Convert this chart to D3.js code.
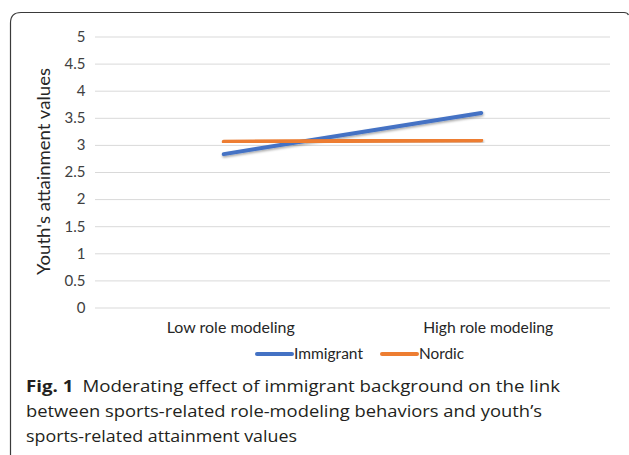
<!DOCTYPE html>
<html>
<head>
<meta charset="utf-8">
<script src="https://cdn.jsdelivr.net/npm/d3@7"></script>
<style>
  html, body { margin: 0; padding: 0; background: #fff; }
  svg { display: block; }
</style>
</head>
<body>
<script>
// chart data
var categories = ["Low role modeling", "High role modeling"];
var seriesNames = ["Immigrant", "Nordic"];
var immigrant = [2.83, 3.59];
var nordic = [3.06, 3.085];
var yTicks = [0, 0.5, 1, 1.5, 2, 2.5, 3, 3.5, 4, 4.5, 5];
var colors = ["#4472c4", "#ed7d31"];
var captionBold = "Fig. 1";
var captionLines = [
    "Moderating effect of immigrant background on the link",
    "between sports-related role-modeling behaviors and youth\u2019s",
    "sports-related attainment values"
];

var W = 629, H = 455;
var svg = d3.select("body").append("svg").attr("width", W).attr("height", H);

// soft shadow like the excel lines
var f = svg.append("defs").append("filter").attr("id", "shadow")
    .attr("x", "-10%").attr("y", "-50%").attr("width", "120%").attr("height", "200%");
f.append("feDropShadow").attr("dx", 0.5).attr("dy", 1.5).attr("stdDeviation", 1)
    .attr("flood-color", "#000").attr("flood-opacity", 0.35);

// frame of the figure box (open at bottom)
svg.append("path")
    .attr("d", "M10.5," + H + " L10.5,23 Q10.5,12.5 21,12.5 L624,12.5 Q627.5,12.5 628.5,15")
    .attr("fill", "none").attr("stroke", "#3a3a3a").attr("stroke-width", 1.2);

var x = d3.scaleBand().domain(categories).range([95, 610]);
var y = d3.scaleLinear().domain([0, 5]).range([307.5, 36.5]);
var font = "Lato, 'Open Sans', sans-serif";

// gridlines + value labels
var yAxis = svg.append("g").attr("transform", "translate(95,0)")
    .call(d3.axisLeft(y).tickValues(yTicks).tickSize(-(610 - 95)).tickPadding(9.5)
        .tickFormat(function(d) { return String(d); }));
yAxis.select(".domain").remove();
yAxis.selectAll(".tick line").attr("stroke", "#d9d9d9").attr("stroke-width", 1);
yAxis.selectAll(".tick text").attr("fill", "#404040")
    .style("font-family", font).style("font-size", "15px");

// category labels
var catWidths = [128, 130];
var xAxis = svg.append("g").attr("transform", "translate(0,307.5)")
    .call(d3.axisBottom(x).tickSize(0).tickPadding(14));
xAxis.select(".domain").remove();
xAxis.selectAll(".tick text").attr("fill", "#262626").attr("dx", 7)
    .style("font-family", font).style("font-size", "15.5px")
    .attr("textLength", function(d, i) { return catWidths[i]; })
    .attr("lengthAdjust", "spacingAndGlyphs");

// axis title
svg.append("text")
    .attr("transform", "translate(50,171.5) rotate(-90)")
    .attr("text-anchor", "middle")
    .attr("fill", "#262626")
    .style("font-family", font).style("font-size", "16.5px")
    .attr("textLength", 207)
    .attr("lengthAdjust", "spacingAndGlyphs")
    .text("Youth's attainment values");

// series lines
var series = [immigrant, nordic];
var line = d3.line()
    .x(function(d, i) { return x(categories[i]) + x.bandwidth() / 2; })
    .y(function(d) { return y(d); });

svg.selectAll("path.series")
    .data(series)
    .enter().append("path")
    .attr("class", "series")
    .attr("d", line)
    .attr("fill", "none")
    .attr("stroke", function(d, i) { return colors[i]; })
    .attr("stroke-width", 4)
    .attr("stroke-linecap", "round")
    .attr("filter", "url(#shadow)");

// legend
var legendX = [257, 382];
var legendW = [69, 45];
var lg = svg.selectAll("g.legend")
    .data(seriesNames)
    .enter().append("g")
    .attr("class", "legend")
    .attr("transform", function(d, i) { return "translate(" + legendX[i] + ",354)"; });
lg.append("line")
    .attr("x1", 0).attr("x2", 35).attr("y1", 0).attr("y2", 0)
    .attr("stroke", function(d, i) { return colors[i]; })
    .attr("stroke-width", 4).attr("stroke-linecap", "round");
lg.append("text")
    .attr("x", 37).attr("y", 4.5)
    .attr("fill", "#262626")
    .style("font-family", font).style("font-size", "14.5px")
    .attr("textLength", function(d, i) { return legendW[i]; })
    .attr("lengthAdjust", "spacingAndGlyphs")
    .text(function(d) { return d; });

// caption
var capFont = "'Open Sans', 'Noto Sans', sans-serif";
var capWidths = [534, 516, 271];
var cap = svg.selectAll("text.cap")
    .data(captionLines)
    .enter().append("text")
    .attr("class", "cap")
    .attr("x", 26)
    .attr("y", function(d, i) { return 392 + i * 25; })
    .attr("fill", "#231f20")
    .style("font-family", capFont).style("font-size", "16.5px")
    .attr("textLength", function(d, i) { return capWidths[i]; })
    .attr("lengthAdjust", "spacingAndGlyphs");
cap.each(function(d, i) {
    var t = d3.select(this);
    if (i === 0) {
        t.append("tspan").style("font-weight", "bold").text(captionBold);
        t.append("tspan").attr("dx", 8).text(d);
    } else {
        t.text(d);
    }
});
</script>
</body>
</html>
